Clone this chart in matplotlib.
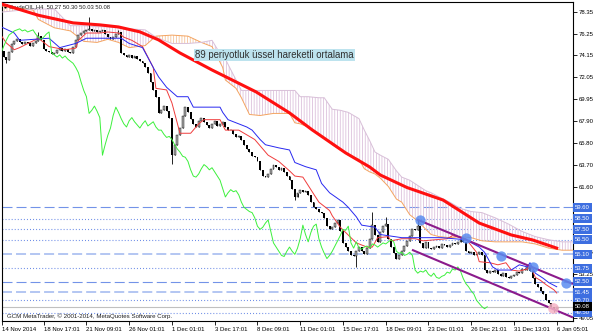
import matplotlib
matplotlib.use('Agg')
import matplotlib.pyplot as plt
import numpy as np

plt.rcParams['font.family'] = ['Liberation Sans', 'DejaVu Sans']
plt.rcParams['lines.scale_dashes'] = False
plt.rcParams['hatch.linewidth'] = 0.6

# H4 closes, one row per date label (16 bars)
closes = [
    74.6, 74.0, 73.7, 74.5, 75.2, 75.5, 75.7, 75.4, 75.2, 75.4, 75.3, 75.1, 75.3, 75.5, 76.0, 75.6,
    74.8, 74.6, 74.5, 74.3, 74.4, 74.7, 74.9, 74.6, 74.8, 74.5, 74.4, 75.0, 75.6, 76.1, 76.3, 76.5,
    76.6, 76.7, 76.5, 76.6, 76.4, 76.5, 76.6, 76.2, 75.9, 75.7, 75.9, 76.2, 76.4, 74.4, 74.2, 74.0,
    74.2, 73.9, 74.1, 73.8, 73.6, 73.4, 73.0, 72.5, 71.6, 70.8, 70.2, 68.6, 68.9, 69.3, 68.8, 68.2,
    64.6, 65.6, 66.5, 67.2, 68.4, 69.2, 68.7, 68.1, 67.6, 67.3, 67.9, 68.2, 67.8, 67.5, 67.2, 67.6,
    67.9, 67.4, 67.6, 67.8, 67.3, 67.0, 67.0, 66.6, 66.3, 66.4, 66.1, 65.6, 65.2, 64.9, 64.5, 64.4,
    64.0, 63.2, 62.6, 62.5, 62.8, 63.3, 63.7, 63.5, 63.2, 63.4, 63.0, 62.6, 62.2, 61.4, 60.6, 61.0,
    61.3, 61.1, 61.2, 60.8, 60.1, 59.6, 59.4, 59.2, 59.1, 58.6, 57.8, 57.5, 57.7, 58.1, 58.4, 57.3,
    56.2, 55.8, 55.4, 55.0, 54.9, 55.4, 55.8, 55.4, 55.1, 55.7, 56.6, 57.9, 57.0, 56.3, 57.2, 57.8,
    58.0, 56.6, 55.8, 55.2, 54.7, 55.0, 55.4, 55.9, 56.4, 56.9, 57.5, 57.4, 57.8, 56.2, 55.7, 56.3,
    55.7, 55.6, 55.8, 55.9, 55.7, 56.1, 56.0, 55.8, 56.0, 56.2, 56.1, 56.3, 56.5, 56.3, 55.4, 55.2,
    55.3, 55.0, 55.1, 55.3, 55.0, 53.6, 53.3, 53.5, 53.4, 53.6, 53.2, 53.0, 53.3, 52.9, 52.8, 53.0,
    53.1, 53.4, 53.3, 53.7, 53.6, 53.9, 53.5, 52.8, 52.3, 52.0, 51.6, 51.3, 50.7, 50.4, 50.1, 49.9,
    50.08,
]
first_open = 74.9
wick_high = {14: 76.4, 33: 77.8, 44: 76.6, 139: 59.2, 144: 58.7, 156: 58.4, 172: 56.7}
wick_low = {2: 73.4, 64: 63.8, 110: 60.3, 133: 53.9, 207: 49.6}

# Ichimoku lines (bar, price)
tenkan_bar = [0, 2, 5, 7, 14, 18, 21, 24, 28, 29, 32, 37, 40, 44, 46, 49, 53, 57, 58, 62,
              64, 67, 71, 74, 76, 82, 84, 89, 95, 100, 104, 108, 110, 113, 116, 119, 123, 124, 127, 129,
              133, 137, 139, 141, 145, 146, 150, 155, 158, 167, 169, 174, 178, 179, 183, 186, 189, 191, 194, 197,
              198, 200, 202, 204, 207, 208]
tenkan_val = [76.1, 75.35, 74.7, 74.9, 75.8, 75.0, 74.85, 74.7, 74.85, 75.6, 76.3, 76.3, 76.4, 76.3, 75.9, 75.6, 75.0, 73.0, 71.0, 70.85,
              69.6, 66.7, 66.7, 67.6, 68.0, 68.0, 67.0, 67.0, 66.1, 64.6, 64.0, 63.1, 62.6, 62.5, 61.3, 60.1, 59.3, 58.8, 57.7, 57.2,
              56.2, 55.8, 55.8, 56.7, 56.8, 56.4, 56.6, 56.6, 56.4, 56.6, 56.9, 56.6, 55.3, 54.4, 54.3, 54.1, 54.3, 53.6, 53.5, 53.7,
              54.1, 52.9, 52.6, 52.2, 51.7, 51.4]
kijun_bar = [0, 5, 7, 18, 22, 28, 32, 45, 48, 53, 57, 59, 62, 66, 70, 72, 82, 83, 85, 92,
             94, 97, 99, 104, 108, 110, 114, 118, 120, 123, 128, 130, 133, 135, 140, 142, 150, 165, 174, 179,
             181, 184, 186, 191, 194, 197, 198, 200, 203, 205, 208]
kijun_val = [76.9, 76.3, 75.6, 75.8, 74.9, 75.3, 75.8, 75.8, 75.3, 74.9, 73.0, 72.1, 71.1, 70.2, 70.2, 69.2, 69.2, 68.7, 68.0, 67.3,
             67.0, 66.1, 65.6, 65.3, 65.1, 63.9, 63.5, 63.2, 61.9, 61.0, 60.1, 59.6, 58.7, 57.9, 57.7, 57.0, 56.7, 56.7, 56.5, 55.8,
             55.3, 53.9, 53.6, 53.6, 54.1, 53.9, 54.3, 53.3, 52.8, 52.4, 52.0]
cloud_bar = [0, 12, 14, 20, 26, 31, 36, 40, 44, 48, 54, 58, 64, 70, 75, 79, 83, 84, 88, 90,
             93, 97, 102, 108, 110, 112, 115, 119, 121, 124, 127, 130, 134, 136, 138, 140, 142, 145, 148, 150,
             153, 156, 159, 161, 164, 168, 172, 176, 180, 185, 190, 195, 200, 205, 210, 215]
span_a = [78.9, 78.5, 77.6, 76.8, 76.5, 75.5, 75.4, 75.7, 75.4, 74.9, 75.1, 76.0, 76.1, 76.0, 75.4, 75.0, 73.0, 71.8, 71.0, 70.1,
          68.5, 68.4, 68.6, 68.6, 67.7, 67.6, 67.3, 66.6, 66.3, 65.6, 65.1, 64.6, 64.2, 63.3, 63.0, 62.8, 62.4, 61.6, 60.4, 60.1,
          58.9, 58.3, 57.5, 57.0, 56.8, 56.7, 56.8, 56.7, 56.4, 56.3, 56.3, 56.3, 56.1, 55.7, 55.5, 55.5]
span_b = [78.3, 78.6, 78.6, 78.6, 77.0, 77.0, 76.9, 76.9, 76.8, 76.7, 76.6, 75.9, 75.3, 75.3, 75.4, 75.6, 73.9, 73.8, 71.8, 70.8,
          70.8, 70.8, 70.8, 70.8, 70.8, 70.2, 70.2, 70.1, 70.1, 69.0, 68.9, 68.7, 68.1, 67.0, 66.0, 64.9, 64.6, 64.2, 63.1, 62.5,
          62.2, 61.7, 61.2, 61.0, 60.6, 60.1, 59.5, 59.2, 59.1, 58.6, 58.0, 57.3, 56.8, 56.5, 56.3, 56.3]
chikou_shift = 26

# EMA 89
ema_bar = [0, 14, 27, 37, 44, 52, 59, 67, 74, 79, 95.5, 108, 116.5, 129, 138, 142, 152, 165.5, 179, 191, 199, 208]
ema_val = [79.1, 78.0, 77.27, 77.08, 76.88, 76.41, 75.64, 74.39, 73.44, 72.76, 70.66, 68.65, 67.02, 64.82, 63.47, 62.7,
           61.5, 60.3, 58.1, 56.96, 56.48, 55.7]

# channel and touch points
channel_up = ([156.1, 213.7], [58.4, 52.3])
channel_dn = ([154.2, 213.7], [55.5, 49.1])
touch_bar = [156.8, 174.0, 187.1, 199.1, 211.5]
touch_val = [58.4, 56.67, 54.95, 53.9, 52.4]
last_touch = (206.6, 50.0)

# horizontal levels
levels = [59.60, 58.50, 57.50, 56.50, 55.10, 53.75, 52.50, 51.45, 50.70, 49.50]
level_kind = ['dash', 'dot', 'dot', 'dot', 'light', 'dot', 'dash', 'light', 'dot', 'dot']
last_price = 50.08

yticks = [78.35, 76.25, 74.15, 72.05, 69.95, 67.90, 65.80, 63.70, 61.60, 59.50, 57.40, 55.35, 53.25, 51.15, 49.05]
ytick_hidden = [59.50, 57.40, 51.15]  # covered by the level boxes
xtick_bar = [0.4, 16, 32, 48, 64, 80, 96, 112, 128, 144, 160, 176, 192, 208]
xtick_lab = ['14 Nov 2014', '18 Nov 17:01', '21 Nov 09:01', '26 Nov 01:01', '1 Dec 01:01', '3 Dec 17:01',
             '8 Dec 09:01', '11 Dec 01:01', '15 Dec 17:01', '18 Dec 09:01', '23 Dec 01:01', '26 Dec 21:01',
             '31 Dec 13:01', '6 Jan 05:01']

fig = plt.figure(figsize=(6, 3.33), dpi=100)
ax = fig.add_axes([2 / 600, 12 / 333, 571 / 600, 319 / 333])
ax.set_xlim(0.4, 214.1)
ax.set_ylim(48.72, 79.27)

# levels
styles = {
    'dash': dict(color='#7393e8', lw=0.8, dashes=(7.2, 2.9)),
    'light': dict(color='#b3c6f2', lw=1.4, dashes=(7.2, 2.9)),
    'dot': dict(color='#6a8ae6', lw=0.8, dashes=(0.7, 1.5)),
}
for lv, kind in zip(levels, level_kind):
    ax.axhline(lv, zorder=1, **styles[kind])
ax.axhline(last_price, color='#c0c0c0', lw=0.8, zorder=1)

# cloud
cb = np.array(cloud_bar)
sa = np.array(span_a)
sb = np.array(span_b)
ax.fill_between(cb, sa, sb, where=sa >= sb, interpolate=True, facecolor='none',
                edgecolor='#f6c49a', hatch='||||||', linewidth=0, zorder=2)
ax.fill_between(cb, sa, sb, where=sb >= sa, interpolate=True, facecolor='none',
                edgecolor='#dcc0dc', hatch='||||||', linewidth=0, zorder=2)
ax.plot(cb, sa, color='#f4a460', lw=0.7, zorder=3)
ax.plot(cb, sb, color='#d8bfd8', lw=0.7, zorder=3)

# candles
c = np.array(closes)
bars = np.arange(len(c))
o = np.r_[first_open, c[:-1]]
hi = np.maximum(o, c)
lo = np.minimum(o, c)
for b, v in wick_high.items():
    hi[b] = v
for b, v in wick_low.items():
    lo[b] = v
ax.vlines(bars, lo, hi, color='black', lw=0.6, zorder=4)
up = c >= o
ax.bar(bars[up], (c - o)[up], bottom=o[up], width=0.7, color='#a8a8a8', edgecolor='black', lw=0.3, zorder=5)
ax.bar(bars[~up], (c - o)[~up], bottom=o[~up], width=0.7, color='black', lw=0, zorder=5)

# ichimoku lines
ax.plot(tenkan_bar, tenkan_val, color='#f03c3c', lw=0.7, zorder=6)
ax.plot(kijun_bar, kijun_val, color='#2828f0', lw=0.7, zorder=6)
ax.plot(bars[:-chikou_shift], c[chikou_shift:], color='#3cf03c', lw=0.7, zorder=6)

# EMA
ax.plot(ema_bar, ema_val, color='#ff1010', lw=2.2, zorder=7)

# channel
ax.plot(*channel_up, color='#8b1a8b', lw=1.5, zorder=8)
ax.plot(*channel_dn, color='#8b1a8b', lw=1.5, zorder=8)
ax.scatter(touch_bar, touch_val, s=55, color='#5a8cf0', alpha=0.85, lw=0, zorder=9)
ax.scatter([last_touch[0]], [last_touch[1]], s=60, color='#f5b3c6', alpha=0.85, lw=0, zorder=9)

# axes
for s in ax.spines.values():
    s.set_color('black')
    s.set_linewidth(0.8)
ax.yaxis.tick_right()
ax.set_yticks(yticks)
ax.set_yticklabels(['' if v in ytick_hidden else '%.2f' % v for v in yticks])
ax.set_xticks(xtick_bar)
ax.set_xticklabels(xtick_lab, ha='left')
ax.tick_params(axis='both', length=3, width=0.6, labelsize=4.3, pad=1.2, colors='black')

# price labels on the right
for lv in levels:
    ax.annotate('%.2f' % lv, xy=(1.004, lv), xycoords=('axes fraction', 'data'), va='center', ha='left',
                fontsize=4.3, color='white',
                bbox=dict(boxstyle='square,pad=0.35', fc='#3d6ee0', ec='none'))
ax.annotate('%.2f' % last_price, xy=(1.004, last_price), xycoords=('axes fraction', 'data'), va='center',
            ha='left', fontsize=4.3, color='white', bbox=dict(boxstyle='square,pad=0.35', fc='black', ec='none'))

# texts
ax.plot([2.5 / 571], [1 - 4 / 319], marker='v', ms=2.5, color='black', transform=ax.transAxes, clip_on=False)
ax.text(7 / 571, 1 - 5 / 319, 'CrudeOIL,H4  50.27 50.30 50.03 50.08', transform=ax.transAxes,
        fontsize=4.2, color='#202020', va='center', ha='left')
ax.text(193 / 571, 1 - 53 / 319, '89 periyotluk üssel hareketli ortalama', transform=ax.transAxes,
        fontsize=6.9, color='#303030', va='center', ha='left',
        bbox=dict(boxstyle='square,pad=0.15', fc='#bde3ee', ec='none'), zorder=10)
ax.text(5 / 571, 1 - 314 / 319, 'GCM MetaTrader, © 2001-2014, MetaQuotes Software Corp.', transform=ax.transAxes,
        fontsize=4.4, color='#202020', va='center', ha='left', zorder=10)

fig.savefig('out.png', dpi=100)
